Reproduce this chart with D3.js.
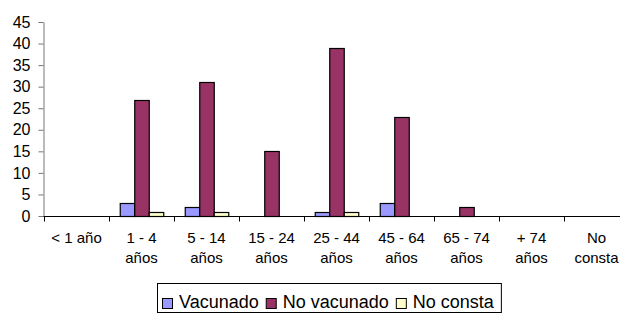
<!DOCTYPE html>
<html>
<head>
<meta charset="utf-8">
<script src="https://cdn.jsdelivr.net/npm/d3@7"></script>
<style>
  html, body { margin: 0; padding: 0; background: #fff; overflow: hidden; }
  svg { display: block; font-family: "Liberation Sans", Arial, sans-serif; }
</style>
</head>
<body>
<svg id="chart" width="620" height="315"></svg>
<script>
const categories = [["< 1 año"], ["1 - 4", "años"], ["5 - 14", "años"], ["15 - 24", "años"], ["25 - 44", "años"], ["45 - 64", "años"], ["65 - 74", "años"], ["+ 74", "años"], ["No", "consta"]];
const seriesNames = ["Vacunado", "No vacunado", "No consta"];
const vacunado    = [0, 3, 2, 0, 1, 3, 0, 0, 0];
const noVacunado  = [0, 27, 31, 15, 39, 23, 2, 0, 0];
const noConsta    = [0, 1, 1, 0, 1, 0, 0, 0, 0];
const yTicks = [0, 5, 10, 15, 20, 25, 30, 35, 40, 45];
const colors = ["#9999FF", "#993366", "#FFFFCC"];

const series = [vacunado, noVacunado, noConsta];
const svg = d3.select("#chart");

const x0 = d3.scaleBand().domain(d3.range(categories.length)).range([44, 629]).paddingInner(0).paddingOuter(0);
const x1 = d3.scaleBand().domain(d3.range(series.length)).range([10.75, x0.bandwidth() - 10.75]).padding(0);
const y = d3.scaleLinear().domain([0, 45]).range([216, 22]);

// bars
const groups = svg.append("g").selectAll("g").data(categories).join("g")
  .attr("transform", (d, i) => `translate(${x0(i)},0)`);
groups.selectAll("rect")
  .data((d, i) => series.map((s, k) => ({ k, v: s[i] })).filter(e => e.v > 0))
  .join("rect")
  .attr("x", e => x1(e.k) + 0.5)
  .attr("y", e => Math.round(y(e.v)) + 0.5)
  .attr("width", x1.bandwidth())
  .attr("height", e => 216 - Math.round(y(e.v)))
  .attr("fill", e => colors[e.k])
  .attr("stroke", "#000")
  .attr("stroke-width", 1.2);

// y axis
const yAxis = svg.append("g").attr("transform", "translate(43.5,0)")
  .call(d3.axisLeft(y).tickValues(yTicks).tickSize(5).tickPadding(8).tickSizeOuter(0));
yAxis.select(".domain").attr("stroke", "#777");
yAxis.selectAll(".tick line").attr("stroke", "#777");
yAxis.selectAll("text").attr("font-size", 16).attr("fill", "#000")
  .attr("font-family", "Liberation Sans, Arial, sans-serif");

// x axis
const xAxis = svg.append("g").attr("transform", "translate(0,216.5)");
xAxis.append("line").attr("x1", 43.5).attr("x2", 629).attr("stroke", "#000");
xAxis.selectAll("line.tk").data(d3.range(categories.length)).join("line")
  .attr("class", "tk")
  .attr("x1", i => Math.round(x0(i)) + 0.5).attr("x2", i => Math.round(x0(i)) + 0.5)
  .attr("y1", 0).attr("y2", 5).attr("stroke", "#000");
const labels = xAxis.selectAll("text").data(categories).join("text")
  .attr("text-anchor", "middle")
  .attr("font-size", 15)
  .attr("fill", "#000");
labels.each(function(d, i) {
  const t = d3.select(this);
  d.forEach((line, j) => {
    t.append("tspan").attr("x", x0(i) + x0.bandwidth() / 2).attr("y", 26.5 + j * 20).text(line);
  });
});

// legend
const lg = svg.append("g");
const box = lg.append("rect").attr("fill", "#fff").attr("stroke", "#000").attr("stroke-width", 1);
let cx = 162;
seriesNames.forEach((name, k) => {
  lg.append("rect").attr("x", cx + 0.5).attr("y", 298.5).attr("width", 10).attr("height", 10)
    .attr("fill", colors[k]).attr("stroke", "#000");
  const t = lg.append("text").attr("x", cx + 17).attr("y", 308).attr("font-size", 18).attr("fill", "#000").text(name);
  cx = cx + 17 + t.node().getComputedTextLength() + 7;
});
box.attr("x", 157.5).attr("y", 283.5).attr("width", cx - 157 + 0).attr("height", 29);
</script>
</body>
</html>
